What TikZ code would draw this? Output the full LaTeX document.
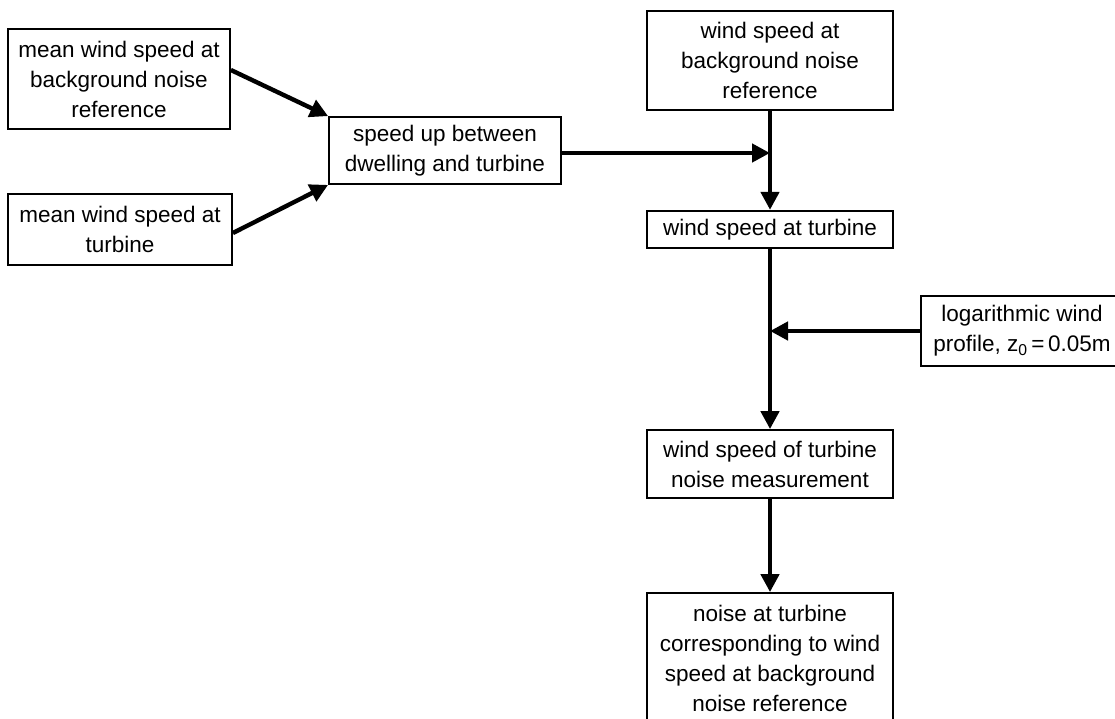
\documentclass[tikz,border=0pt]{standalone}
\usepackage{fontspec}
\setmainfont{Liberation Sans}
\usetikzlibrary{arrows.meta}
\begin{document}
\begin{tikzpicture}[x=1pt,y=-1pt,
  box/.style={draw, line width=1.8pt, align=center, inner sep=0pt,
    font=\fontsize{22.5}{30}\selectfont},
  flow/.style={line width=4.4pt, -{Triangle[length=18pt,width=18pt]}}]
\path[use as bounding box] (0,0) rectangle (1115,718);
\clip (0,0) rectangle (1115,718);
\node[box, minimum width=222pt, minimum height=100pt] (A) at (119,79) {mean wind speed at\\background noise\\reference};
\node[box, minimum width=224pt, minimum height=71pt] (B) at (120,229.5) {mean wind speed at\\turbine};
\node[box, minimum width=232pt, minimum height=67pt] (C) at (445,150.5) {speed up between\\dwelling and turbine};
\node[box, minimum width=246pt, minimum height=99pt] (D) at (770,60.5) {wind speed at\\background noise\\reference};
\node[box, minimum width=246pt, minimum height=37.5pt] (E) at (770,229.5) {wind speed at turbine};
\node[box, minimum width=202pt, minimum height=70pt] (G) at (1022,331) {logarithmic wind\\profile, z\textsubscript{0}\,=\,0.05m};
\node[box, minimum width=246pt, minimum height=68pt] (F) at (770,464) {wind speed of turbine\\noise measurement};
\node[box, minimum width=246pt, minimum height=131pt] (H) at (770,658.5) {noise at turbine\\corresponding to wind\\speed at background\\noise reference};
\coordinate (J1) at ([yshift=-2.5pt]C.east -| D.south);
\coordinate (J2) at (G.west -| E.south);
\draw[flow] ([yshift=9pt]A.east) -- (C.north west);
\draw[flow] ([yshift=-3.5pt]B.east) -- (C.south west);
\draw[flow] ([yshift=-2.5pt]C.east) -- (J1);
\draw[flow] (D.south) -- (E.north);
\draw[flow] (G.west) -- (J2);
\draw[flow] (E.south) -- (F.north);
\draw[flow] (F.south) -- (H.north);
\end{tikzpicture}
\end{document}
